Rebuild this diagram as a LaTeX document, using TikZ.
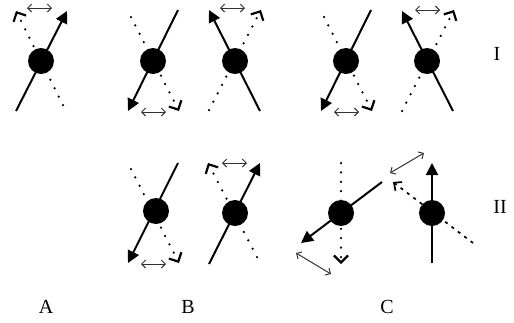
\documentclass[tikz,border=0pt]{standalone}
\usepackage{fontspec}
\setmainfont{Liberation Serif}
\usetikzlibrary{arrows.meta}
\tikzset{
  ball/.style={circle, fill=black, inner sep=0pt, minimum size=26pt},
  solidline/.style={line width=2pt, -{Triangle[length=12pt,width=12pt]}},
  dotline/.style={line width=2.5pt, line cap=round, dash pattern=on 0pt off 9.4pt, -{Straight Barb[length=7pt,width=14pt,line width=2.2pt]}},
  dashline/.style={line width=1.7pt, dash pattern=on 3pt off 5pt, -{Straight Barb[length=6pt,width=11pt,line width=1.7pt]}},
  swing/.style={line width=1pt, black!80, {Straight Barb[length=4pt,width=8pt]}-{Straight Barb[length=4pt,width=8pt]}},
  tag/.style={font=\fontsize{20}{20}\selectfont, inner sep=0pt}
}
% name, ball, solid start/tip, dotted start/tip, swing ends
\newcommand{\crossing}[9][dotline]{
  \coordinate (#2s) at #4;
  \coordinate (#2t) at #5;
  \coordinate (#2d) at #6;
  \coordinate (#2h) at #7;
  \coordinate (#2l) at #8;
  \coordinate (#2r) at #9;
  \draw[#1] (#2d) -- (#2h);
  \draw[solidline] (#2s) -- (#2t);
  \draw[swing] (#2l) -- (#2r);
  \node[ball] (#2b) at #3 {};
}
\begin{document}
\begin{tikzpicture}[x=1pt, y=-1pt]
\useasboundingbox (0,0) rectangle (514,322);
% row I
\crossing{aone}{(41,61)}{(16,111)}{(67,11)}{(63,105)}{(16,11)}{(27,8)}{(52,8)}
\crossing{bone}{(153,61)}{(178,10)}{(128,111)}{(131,17)}{(179,111)}{(141,112)}{(166,112)}
\crossing{btwo}{(235,61)}{(260,111)}{(209,10)}{(209,110)}{(261,10)}{(220,8)}{(245,8)}
\crossing{cone}{(346,61)}{(371,10)}{(321,111)}{(324,17)}{(372,111)}{(334,112)}{(359,112)}
\crossing{ctwo}{(427,61)}{(453,111)}{(402,11)}{(402,111)}{(454,10)}{(415,10)}{(440,10)}
% row II
\crossing{bthree}{(156,211)}{(178,163)}{(128,263)}{(131,169)}{(179,263)}{(141,264)}{(166,264)}
\crossing{bfour}{(235,213)}{(209,264)}{(260,163)}{(257,257)}{(208,163)}{(222,163)}{(247,163)}
\crossing{cthree}{(341,213)}{(382,182)}{(301,243)}{(341,163)}{(341,264)}{(296,253)}{(331,274)}
\crossing[dashline]{cfour}{(432,213)}{(432,263)}{(432,163)}{(473,243)}{(393,182)}{(390,173)}{(424,153)}
% labels
\node[tag] (rowone) at (497,54) {I};
\node[tag] (rowtwo) at (500,207) {II};
\node[tag] (cola) at (46,307) {A};
\node[tag] (colb) at (188,307) {B};
\node[tag] (colc) at (387,307) {C};
\end{tikzpicture}
\end{document}
